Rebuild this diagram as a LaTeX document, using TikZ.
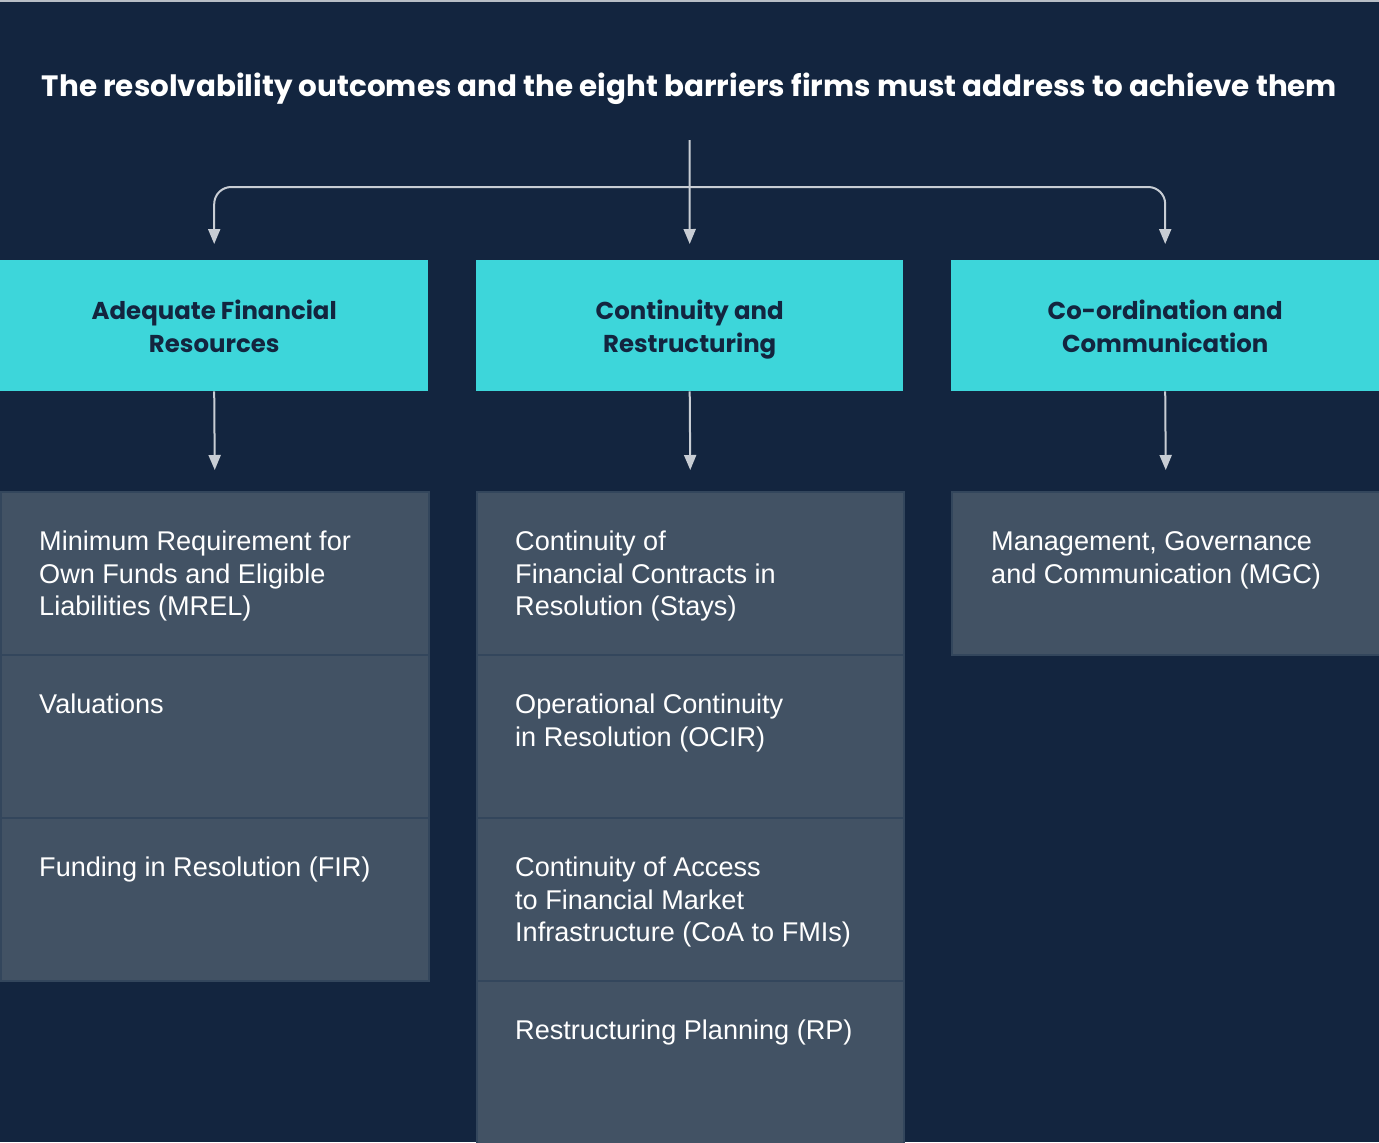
\documentclass[tikz,border=0pt]{standalone}
\usepackage{fontspec}
\setmainfont{Liberation Sans}
\newfontfamily\popfont{Poppins}
\usetikzlibrary{arrows.meta,calc}
\definecolor{bgnavy}{HTML}{13253F}
\definecolor{hcyan}{HTML}{3DD6DA}
\definecolor{cellgrey}{HTML}{425264}
\definecolor{cellline}{HTML}{33465C}
\definecolor{arrowgrey}{HTML}{C8CDD4}
\definecolor{topline}{HTML}{B8BEC6}
\begin{document}
\begin{tikzpicture}[x=1bp,y=-1bp,
 conn/.style={draw=arrowgrey, line width=2bp, -{Triangle[width=12bp,length=15bp]}},
 headbox/.style={fill=hcyan, draw=none, minimum height=131bp, inner sep=0, anchor=north west},
 headtext/.style={inner sep=0, text=bgnavy, font=\popfont\bfseries\fontsize{24.5}{32.5}\selectfont, align=center},
 cell/.style={fill=cellgrey, draw=cellline, line width=1.5bp, minimum height=163bp, inner sep=0, anchor=north west},
 celltext/.style={anchor=north west, inner sep=0, text=white, font=\fontsize{27.2}{32.5}\selectfont, align=left},
 titletext/.style={anchor=base, inner sep=0, text=white, font=\popfont\bfseries\fontsize{29.5}{34}\selectfont},
 ]
\fill[bgnavy] (0,0) rectangle (1379,1142);
\useasboundingbox (0,0) rectangle (1379,1142);
\fill[topline] (0,0) rectangle (1379,1.5);

\node[titletext] (title) at (689.5,96) {The resolvability outcomes and the eight barriers firms must address to achieve them};

% outcome headers
\node[headbox, minimum width=428bp] (h1) at (0,260) {};
\node[headbox, minimum width=427bp] (h2) at (476,260) {};
\node[headbox, minimum width=428bp] (h3) at (951,260) {};
\node[headtext] (th1) at ($(h1.center)+(0,4)$) {\strut Adequate Financial\\Resources\strut};
\node[headtext] (th2) at ($(h2.center)+(0,4)$) {\strut Continuity and\\Restructuring\strut};
\node[headtext] (th3) at ($(h3.center)+(0,4)$) {\strut Co-ordination and\\Communication\strut};

% barrier cells
\node[cell, minimum width=428bp] (a1) at (0,491) {};
\node[cell, minimum width=428bp] (a2) at (0,654) {};
\node[cell, minimum width=428bp] (a3) at (0,817) {};
\node[cell, minimum width=427bp] (b1) at (476,491) {};
\node[cell, minimum width=427bp] (b2) at (476,654) {};
\node[cell, minimum width=427bp] (b3) at (476,817) {};
\node[cell, minimum width=427bp] (b4) at (476,980) {};
\node[cell, minimum width=428bp] (c1) at (951,491) {};

\node[celltext] (ta1) at ($(a1.north west)+(39,37)$) {\strut Minimum Requirement for\\Own Funds and Eligible\\Liabilities (MREL)};
\node[celltext] (ta2) at ($(a2.north west)+(39,37)$) {\strut Valuations};
\node[celltext] (ta3) at ($(a3.north west)+(39,37)$) {\strut Funding in Resolution (FIR)};
\node[celltext] (tb1) at ($(b1.north west)+(39,37)$) {\strut Continuity of\\Financial Contracts in\\Resolution (Stays)};
\node[celltext] (tb2) at ($(b2.north west)+(39,37)$) {\strut Operational Continuity\\in Resolution (OCIR)};
\node[celltext] (tb3) at ($(b3.north west)+(39,37)$) {\strut Continuity of Access\\to Financial Market\\Infrastructure (CoA to FMIs)};
\node[celltext] (tb4) at ($(b4.north west)+(39,37)$) {\strut Restructuring Planning (RP)};
\node[celltext] (tc1) at ($(c1.north west)+(40,37)$) {\strut Management, Governance\\and Communication (MGC)};

% connectors
\coordinate (src) at (689.5,140);
\coordinate (bar) at (689.5,187);
\coordinate (t1) at ($(h1.north)+(0,-16)$);
\coordinate (t2) at ($(h2.north)+(0,-16)$);
\coordinate (t3) at ($(h3.north)+(0,-16)$);
\draw[conn] (src) -- (t2);
\draw[conn, rounded corners=17bp] (bar) -| (t1);
\draw[conn, rounded corners=17bp] (bar) -| (t3);

\draw[conn] (h1.south) -- ($(a1.north)+(0,-21)$);
\draw[conn] (h2.south) -- ($(b1.north)+(0,-21)$);
\draw[conn] (h3.south) -- ($(c1.north)+(0,-21)$);
\end{tikzpicture}
\end{document}
